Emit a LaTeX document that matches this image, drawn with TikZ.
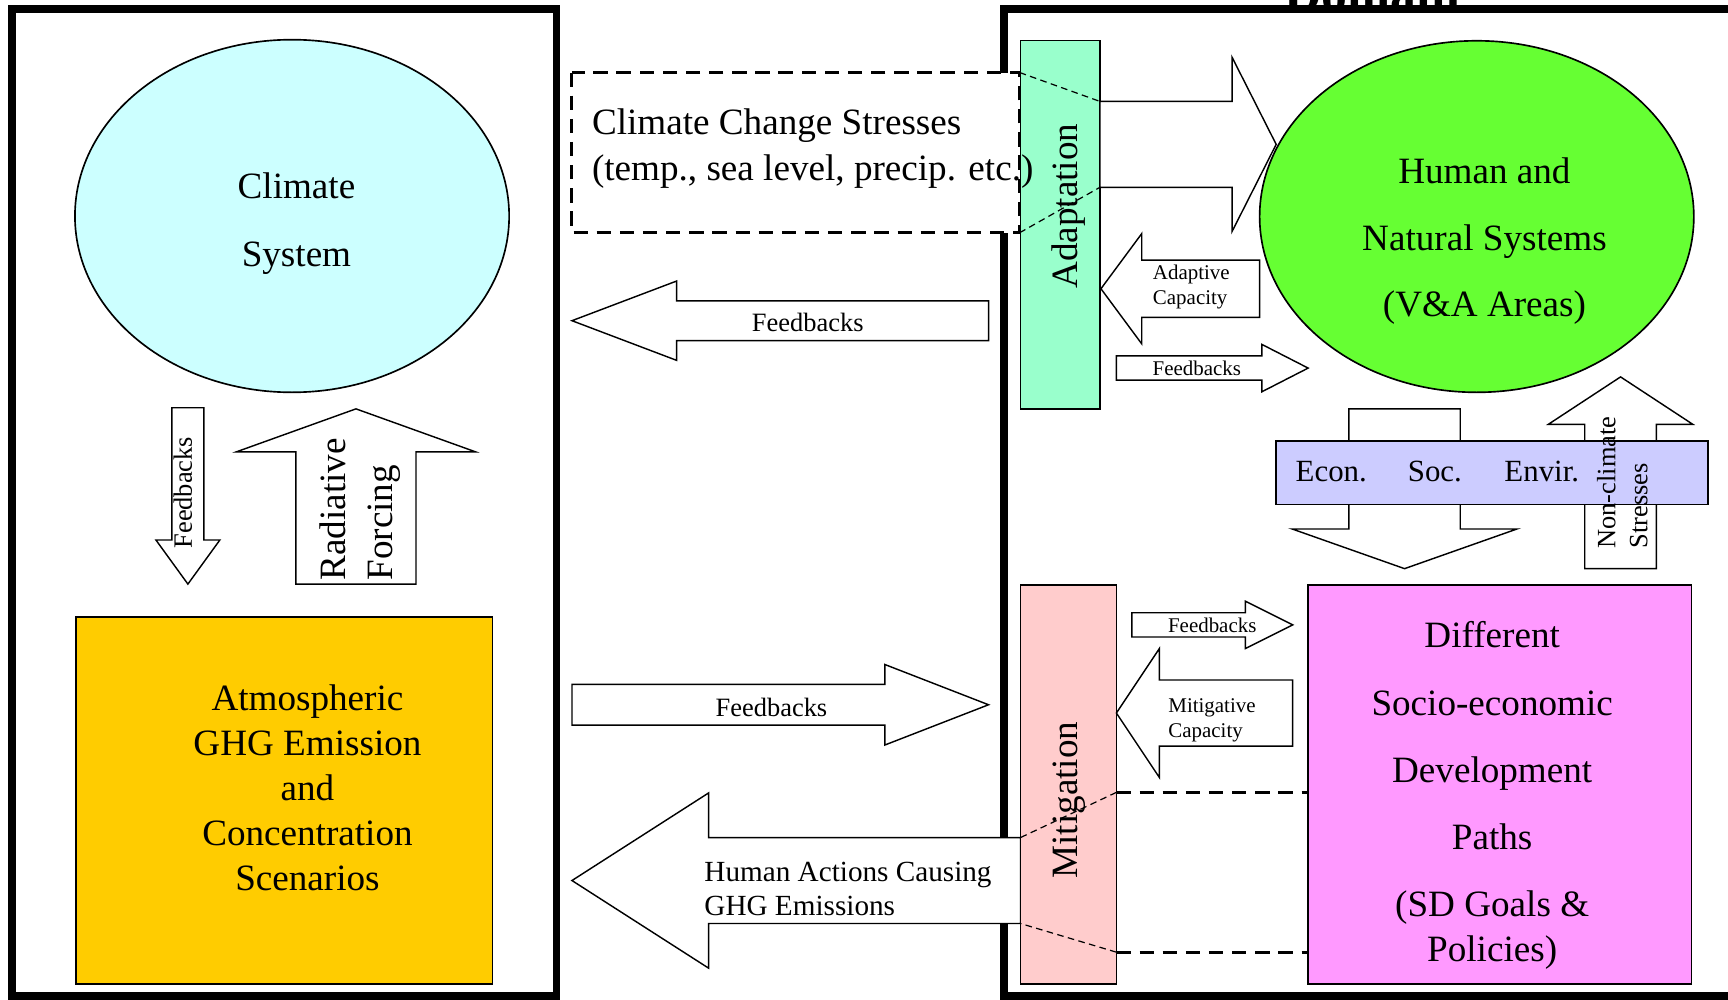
\documentclass[tikz,border=0pt]{standalone}
\usepackage{fontspec}
\setmainfont{Liberation Serif}
\usetikzlibrary{shapes.geometric}

\definecolor{climcol}{HTML}{CCFFFF}
\definecolor{atmocol}{HTML}{FFCC00}
\definecolor{adaptcol}{HTML}{99FFCC}
\definecolor{humancol}{HTML}{66FF33}
\definecolor{bandcol}{HTML}{CCCCFF}
\definecolor{sociocol}{HTML}{FF99FF}
\definecolor{mitigcol}{HTML}{FFCCCC}

% horizontal block arrow: tail x, head-base x, centre y, shaft half, head half, tip x
\newcommand\blockH[6]{%
  \draw[blk] (#1,#3-#4) -- (#2,#3-#4) -- (#2,#3-#5) -- (#6,#3) -- (#2,#3+#5)
    -- (#2,#3+#4) -- (#1,#3+#4) -- cycle;}
% vertical block arrow: tail y, head-base y, centre x, shaft half, head half, tip y
\newcommand\blockV[6]{%
  \draw[blk] (#3-#4,#1) -- (#3-#4,#2) -- (#3-#5,#2) -- (#3,#6) -- (#3+#5,#2)
    -- (#3+#4,#2) -- (#3+#4,#1) -- cycle;}

\tikzset{
  frame/.style={line width=7pt, line join=miter},
  rbox/.style={draw=black, line width=1.3pt, inner sep=0pt, rectangle},
  oval/.style={draw=black, line width=1.5pt, inner sep=0pt, ellipse},
  blk/.style={draw=black, line width=1.3pt, fill=white, line join=miter},
  thickdash/.style={line width=3pt, dash pattern=on 13pt off 8pt},
  thindash/.style={line width=1.1pt, dash pattern=on 6pt off 4pt},
  big/.style={inner sep=0pt, font=\fontsize{33.7}{40.7}\selectfont},
  mid/.style={inner sep=0pt, font=\fontsize{26.5}{31}\selectfont},
  econ/.style={inner sep=0pt, font=\fontsize{28}{34}\selectfont},
  fb/.style={inner sep=0pt, font=\fontsize{24}{29}\selectfont},
  small/.style={inner sep=0pt, font=\fontsize{19}{23}\selectfont},
}

\begin{document}
\begin{tikzpicture}[x=1pt, y=-1pt]
\useasboundingbox (0,0) rectangle (1568,907);
\clip (0,0) rectangle (1568,907);
\fill[white] (0,0) rectangle (1568,907);

% heading of the right-hand domain
\node[inner sep=0pt, anchor=base, font=\bfseries\fontsize{47}{47}\selectfont] (domain) at (1245,10) {Domain};

% the two domain frames
\draw[frame] (11,904) -- (11,8) -- (505,8) -- (505,904) -- cycle;
\draw[frame] (1580,8) -- (911,8) -- (911,904) -- (1580,904);

% ---- climate side ----
\node[oval, fill=climcol, minimum width=394pt, minimum height=320pt] (climate) at (265,196) {};
\node[big, align=center, font=\fontsize{33.7}{62}\selectfont] (climtext) at (269,203) {Climate\\System};

\blockV{370}{490}{170.5}{14.5}{29}{530}
\node[fb, rotate=90] (fbdown) at (166,447) {Feedbacks};

\blockV{530}{410}{323}{54.5}{108.5}{371}
\node[big, rotate=90, anchor=west, align=left, font=\fontsize{33.7}{43}\selectfont] (radforce) at (327,527) {Radiative\\Forcing};

\node[rbox, fill=atmocol, minimum width=378pt, minimum height=333pt] (atmo) at (258,726.5) {};
\node[big, align=center] (atmotext) at (279,715) {Atmospheric\\GHG Emission\\and\\Concentration\\Scenarios};

% ---- human side ----
\node[oval, fill=humancol, minimum width=394pt, minimum height=319pt] (human) at (1340,196.5) {};
\node[big, align=center, font=\fontsize{33.7}{60.5}\selectfont] (humantext) at (1347,219) {Human and\\Natural Systems\\(V\&A Areas)};

% ---- connecting arrows in the middle ----
\blockH{897}{614}{291}{18}{36}{519}
\node[fb] (fbleft) at (733,293) {Feedbacks};

\blockH{519}{803}{639.5}{18.5}{36.5}{897}
\node[fb] (fbright) at (700,642) {Feedbacks};

% climate change stresses box
\fill[white] (519,66) rectangle (925,211);
\node[rbox, fill=adaptcol, minimum width=72pt, minimum height=334pt] (adapt) at (962,204) {};
\node[big, rotate=90] (adapttext) at (970,187) {Adaptation};
\node[draw=none, inner sep=0pt, minimum width=406pt, minimum height=145pt] (stress) at (722,138.5) {};
\draw[thickdash] (stress.north west) rectangle (stress.south east);
\node[big, anchor=west, align=left, font=\fontsize{33.7}{42}\selectfont] (stresstext) at (537,135) {Climate Change Stresses\\(temp., sea level, precip. etc.)};
\draw[thindash] (stress.north east) -- (998,92);
\draw[thindash] (stress.south east) -- (998,170);

% adaptation towards human and natural systems
\blockH{998}{1118}{131}{39}{79}{1158}
\blockH{1143}{1036}{262}{26}{50}{999}
\node[small, anchor=west, align=left] (adcap) at (1046,260.5) {Adaptive\\Capacity};
\blockH{1013}{1145}{334}{11}{21.5}{1187}
\node[small] (fbadapt) at (1086,334) {Feedbacks};

% sustainable development band
\blockV{371}{480}{1274.5}{50.5}{102}{516}
\blockV{516}{385}{1470.5}{32.5}{65.5}{342}
\node[rbox, fill=bandcol, minimum width=392pt, minimum height=58pt] (band) at (1354,429) {};
\node[econ] (econ) at (1208,428) {Econ.};
\node[econ] (soc) at (1302,428) {Soc.};
\node[econ] (envir) at (1399,428) {Envir.};
\node[fb, rotate=90, anchor=west, align=left] (nonclim) at (1472,498) {Non-climate\\Stresses};

% development paths and mitigation
\node[rbox, fill=sociocol, minimum width=348pt, minimum height=362pt] (socio) at (1361,712) {};
\node[big, align=center] (sociotext) at (1354,722) {Different\\[20.3pt]Socio-economic\\[20.3pt]Development\\[20.3pt]Paths\\[20.3pt](SD Goals \&\\Policies)};

\blockH{926}{643}{799}{39}{79.5}{519}
\node[mid, anchor=west, align=left] (actions) at (639,807) {Human Actions Causing\\GHG Emissions};

\node[rbox, fill=mitigcol, minimum width=87pt, minimum height=362pt] (mitig) at (969.5,712) {};
\node[big, rotate=90] (mitigtext) at (970,726) {Mitigation};

\blockH{1027}{1130}{567}{11}{21.5}{1173}
\node[small] (fbmitig) at (1100,567) {Feedbacks};
\blockH{1173}{1052}{647}{30}{58.5}{1013}
\node[small, anchor=west, align=left] (mitcap) at (1060,653.5) {Mitigative\\Capacity};

\coordinate (mtop) at (1013,719);
\coordinate (mbot) at (1013,864);
\draw[thickdash] (mtop) -- (socio.west |- mtop);
\draw[thickdash] (mbot) -- (socio.west |- mbot);
\draw[thindash] (mtop) -- (926,760);
\draw[thindash] (mbot) -- (926,838);
\end{tikzpicture}
\end{document}
